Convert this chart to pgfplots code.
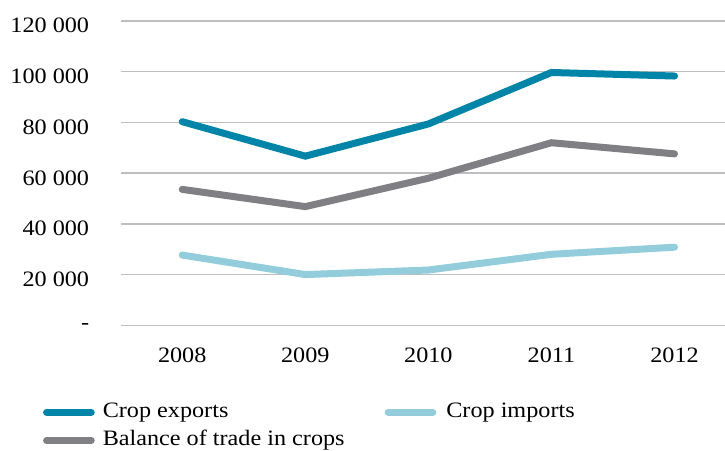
\documentclass[border=0pt]{standalone}
\usepackage{pgfplots}
\pgfplotsset{compat=1.18}
\usepackage{fontspec}
\setmainfont{Liberation Serif}[FakeStretch=1.1]

\definecolor{expblue}{HTML}{0085A8}
\definecolor{impblue}{HTML}{93CDDC}
\definecolor{balgray}{HTML}{7F7F84}
\definecolor{gridgray}{HTML}{BEBEBE}

\begin{document}
\begin{tikzpicture}
\useasboundingbox (0,0) rectangle (725pt,450pt);
\begin{axis}[
  at={(120.7pt,124.7pt)}, anchor=south west,
  scale only axis, width=604.3pt, height=304.3pt,
  xmin=-0.5, xmax=4.41, ymin=0, ymax=120000,
  xtick={0,1,2,3,4},
  xticklabels={2008,2009,2010,2011,2012},
  ytick={0,20000,40000,60000,80000,100000,120000},
  yticklabels={\raisebox{7.5pt}{-},20 000,40 000,60 000,80 000,100 000,120 000},
  scaled y ticks=false,
  ymajorgrids,
  grid style={gridgray, line width=1.5pt},
  axis line style={draw=none},
  major tick length=0pt,
  tick label style={font=\fontsize{22}{26}\selectfont, inner sep=0pt},
  yticklabel style={anchor=base east, xshift=-31.4pt, yshift=-12pt},
  xticklabel style={anchor=base, yshift=-37.4pt},
  legend columns=2,
  legend cell align=left,
  legend image code/.code={\draw[#1, line cap=round] (0pt,0pt) -- (44.7pt,0pt);},
  legend style={
    at={(-0.1285,-0.253)}, anchor=north west,
    draw=none, fill=none, inner sep=0pt, outer sep=0pt,
    font=\fontsize{22}{26}\selectfont,
    nodes={inner sep=0pt, text height=15pt, text depth=5pt},
    column sep=8pt, row sep=8.3pt,
    /tikz/column 2/.style={column sep=40pt},
    /tikz/column 3/.style={column sep=10pt},
  },
]
\addplot[expblue, line width=7pt, line cap=round] coordinates
  {(0,80300) (1,66700) (2,79400) (3,99700) (4,98300)};
\addlegendentry{Crop exports}
\addplot[impblue, line width=7pt, line cap=round] coordinates
  {(0,27700) (1,20000) (2,21800) (3,28000) (4,30800)};
\addlegendentry{Crop imports}
\addplot[balgray, line width=7pt, line cap=round] coordinates
  {(0,53600) (1,46800) (2,58000) (3,72000) (4,67600)};
\addlegendentry{Balance of trade in crops}
\end{axis}
\end{tikzpicture}
\end{document}
